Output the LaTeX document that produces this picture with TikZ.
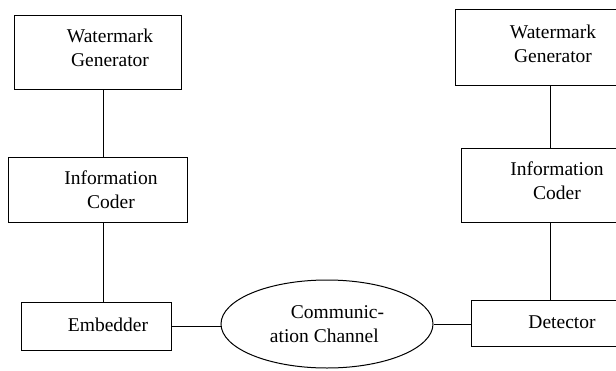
\documentclass[tikz,border=0pt]{standalone}
\usepackage{fontspec}
\setmainfont{Liberation Serif}
\usetikzlibrary{shapes.geometric}
\begin{document}
\begin{tikzpicture}[x=1pt,y=-1pt,
  box/.style={draw,line width=1pt,inner sep=0pt},
  lbl/.style={align=center,inner sep=0pt,font=\fontsize{19.5}{24}\selectfont},
  conn/.style={line width=1pt}]
\useasboundingbox (0,0) rectangle (616,370);
\fill[white] (0,0) rectangle (616,370);
\clip (0,0) rectangle (616,370);
% left column
\node[box,minimum width=167pt,minimum height=74pt] (wg1) at (97.5,52) {};
\node[lbl] (wg1t) at (110,48) {Watermark\\Generator};
\node[box,minimum width=179pt,minimum height=65pt] (ic1) at (97.5,189.5) {};
\node[lbl] (ic1t) at (111,190) {Information\\Coder};
\node[box,minimum width=150pt,minimum height=48pt] (emb) at (96,326) {};
\node[lbl] (embt) at (108,325) {Embedder};
% channel
\node[draw,ellipse,line width=1pt,minimum width=212pt,minimum height=88pt,inner sep=0pt] (ch) at (327,324) {};
\node[lbl,align=left] (cht) at (327,324) {\hspace{21pt}Communic-\\ation Channel};
% right column
\node[box,minimum width=165pt,minimum height=76pt] (wg2) at (537.5,47) {};
\node[lbl] (wg2t) at (553,44) {Watermark\\Generator};
\node[box,minimum width=159pt,minimum height=74pt] (ic2) at (540.5,185) {};
\node[lbl] (ic2t) at (557,181) {Information\\Coder};
\node[box,minimum width=149pt,minimum height=46pt] (det) at (545.5,323) {};
\node[lbl] (dett) at (562,322) {Detector};
% connectors
\draw[conn] ([xshift=5.5pt]wg1.south) -- ([xshift=5.5pt]wg1.south |- ic1.north);
\draw[conn] ([xshift=5.5pt]ic1.south) -- ([xshift=5.5pt]ic1.south |- emb.north);
\draw[conn] (emb.east) -- (emb.east -| ch.west);
\draw[conn] (ch.east) -- (ch.east -| det.west);
\draw[conn] ([xshift=12.5pt]wg2.south) -- ([xshift=12.5pt]wg2.south |- ic2.north);
\draw[conn] ([xshift=9.5pt]ic2.south) -- ([xshift=9.5pt]ic2.south |- det.north);
\end{tikzpicture}
\end{document}
